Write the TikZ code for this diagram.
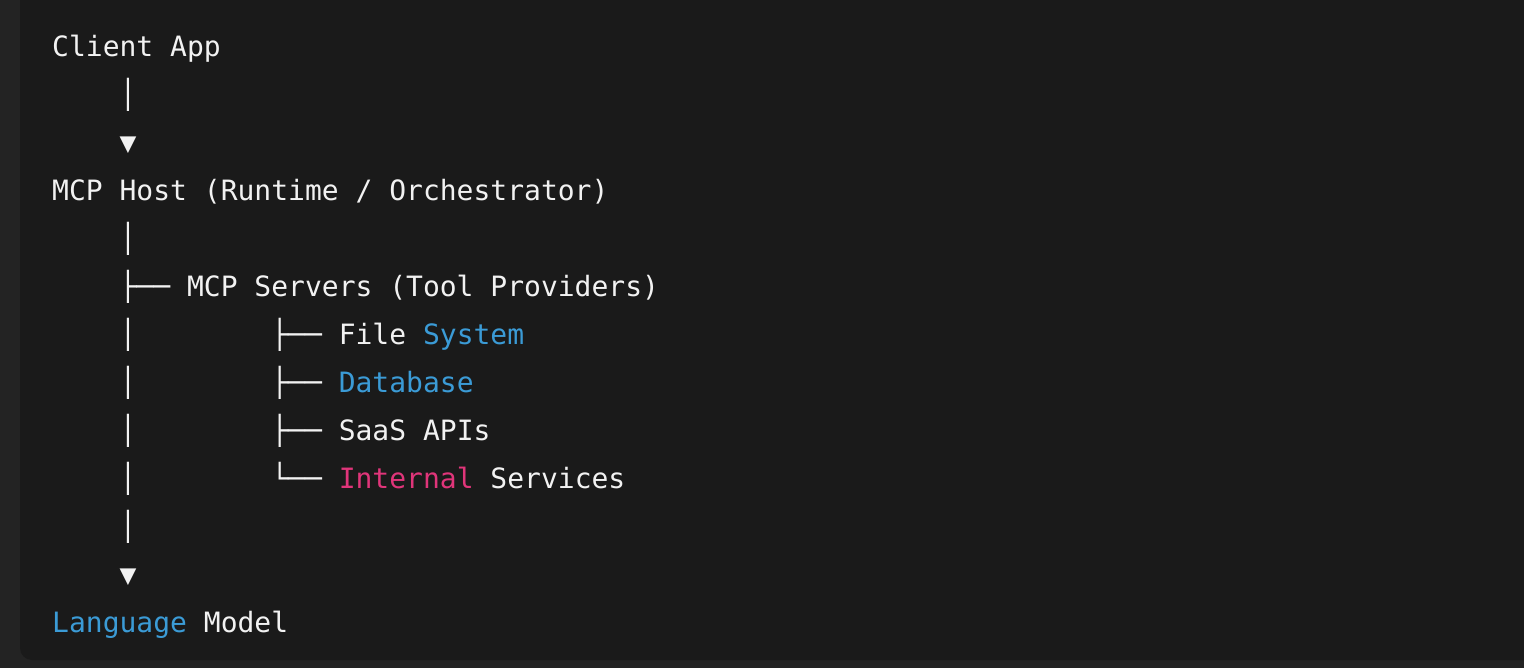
\documentclass[tikz,border=0pt]{standalone}
\usepackage{fontspec}
\setmonofont{DejaVu Sans Mono}
\definecolor{bgout}{HTML}{232323}
\definecolor{bgin}{HTML}{1A1A1A}
\definecolor{fg}{HTML}{F2F2F2}
\definecolor{cblue}{HTML}{3B9BD6}
\definecolor{cpink}{HTML}{E0357A}
\begin{document}
\begin{tikzpicture}[x=1pt,y=-1pt,
  codeline/.style={anchor=base west, inner sep=0pt, text=fg,
    font=\ttfamily\fontsize{28}{48}\selectfont}]
\useasboundingbox (0,0) rectangle (1524,668);
\fill[bgout] (0,0) rectangle (1524,668);
\fill[bgin, rounded corners=12pt] (20,-20) rectangle (1560,660);
\node[codeline] (l1)  at (52,56.5)  {Client App};
\node[codeline] (l2)  at (52,104.5) {~~~~│};
\node[codeline] (l3)  at (52,152.5) {~~~~▼};
\node[codeline] (l4)  at (52,200.5) {MCP Host (Runtime / Orchestrator)};
\node[codeline] (l5)  at (52,248.5) {~~~~│};
\node[codeline] (l6)  at (52,296.5) {~~~~├── MCP Servers (Tool Providers)};
\node[codeline] (l7)  at (52,344.5) {~~~~│~~~~~~~~├── File \textcolor{cblue}{System}};
\node[codeline] (l8)  at (52,392.5) {~~~~│~~~~~~~~├── \textcolor{cblue}{Database}};
\node[codeline] (l9)  at (52,440.5) {~~~~│~~~~~~~~├── SaaS APIs};
\node[codeline] (l10) at (52,488.5) {~~~~│~~~~~~~~└── \textcolor{cpink}{Internal} Services};
\node[codeline] (l11) at (52,536.5) {~~~~│};
\node[codeline] (l12) at (52,584.5) {~~~~▼};
\node[codeline] (l13) at (52,632.5) {\textcolor{cblue}{Language} Model};
\end{tikzpicture}
\end{document}
